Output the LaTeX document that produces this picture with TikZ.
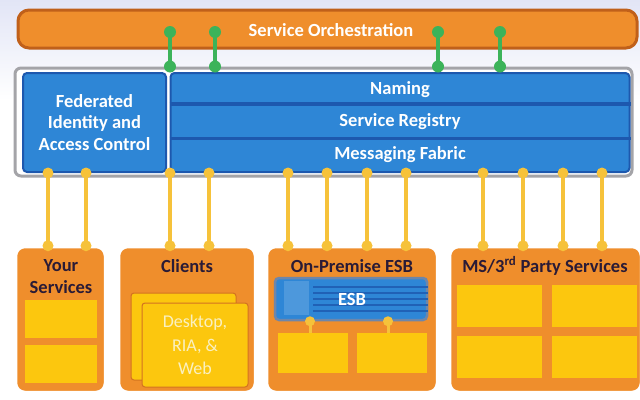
\documentclass[tikz,border=0pt]{standalone}
\usepackage{fontspec}
\setmainfont{Carlito}
\usetikzlibrary{calc}
\definecolor{orangeF}{HTML}{EF8E2C}
\definecolor{orangeD}{HTML}{C0601A}
\definecolor{blueF}{HTML}{2E86D6}
\definecolor{blueD}{HTML}{1D58AE}
\definecolor{yelF}{HTML}{FCC70E}
\definecolor{yelL}{HTML}{F6C23A}
\definecolor{greenL}{HTML}{3CB35A}
\definecolor{titleC}{HTML}{2A1B36}
\definecolor{greyB}{HTML}{A4A4A8}
\definecolor{creamT}{HTML}{FAF0C0}
\tikzset{
  x=1pt,y=-1pt,
  orchbar/.style={draw=orangeD,line width=3pt,fill=orangeF,rounded corners=11pt,inner sep=0pt},
  panel/.style={draw=greyB,line width=3pt,fill=white,rounded corners=6pt,inner sep=0pt},
  bluebox/.style={draw=blueD,line width=2pt,fill=blueF,rounded corners=4pt,inner sep=0pt},
  bluerow/.style={inner sep=0pt,text=white,font=\bfseries\fontsize{18.5}{21}\selectfont},
  group/.style={draw=white,line width=2.5pt,fill=orangeF,rounded corners=9pt,inner sep=0pt},
  gtitle/.style={text=titleC,font=\bfseries\fontsize{18.5}{22}\selectfont,align=center,inner sep=0pt},
  ybox/.style={fill=yelF,draw=none,inner sep=0pt},
  yline/.style={draw=yelL,line width=3.5pt},
  gline/.style={draw=greenL,line width=3.5pt},
  ydot/.style={fill=yelL,draw=none},
  gdot/.style={fill=greenL,draw=none},
}
\begin{document}
\begin{tikzpicture}
\useasboundingbox (0,0) rectangle (640,399);
% background
\shade[top color={rgb,255:red,226;green,229;blue,246},bottom color=white] (0,0) rectangle (640,100);
\fill[white] (0,100) rectangle (640,399);

% orchestration bar
\node[orchbar,minimum width=619pt,minimum height=38pt] (bar) at (327.5,29) {};
\node[inner sep=0pt,text=white,font=\bfseries\fontsize{18.5}{20}\selectfont] (orch) at (331,30) {Service Orchestration};

% main panel
\node[panel,minimum width=617pt,minimum height=108pt] (panel) at (323.5,122) {};
\node[bluebox,minimum width=143pt,minimum height=99pt,text=white,align=center,
      font=\bfseries\fontsize{18.5}{21.5}\selectfont] (fed) at (94.5,122.5)
      {Federated\\Identity and\\Access Control};
\node[bluebox,minimum width=459pt,minimum height=99pt] (right) at (400,122.5) {};
\node[bluerow] (naming) at (400,90) {Naming};
\node[bluerow] (reg) at (400,122) {Service Registry};
\node[bluerow] (msg) at (400,155) {Messaging Fabric};
\draw[blueD,line width=3.5pt] (right.west |- 0,104) -- (right.east |- 0,104);
\draw[blueD,line width=3.5pt] (right.west |- 0,138.5) -- (right.east |- 0,138.5);

% bottom groups
\node[group,minimum width=89pt,minimum height=145pt] (gyours) at (60.5,319.5) {};
\node[group,minimum width=136pt,minimum height=145pt] (gclients) at (187,319.5) {};
\node[group,minimum width=170pt,minimum height=145pt] (gonprem) at (352,319.5) {};
\node[group,minimum width=191pt,minimum height=145pt] (gms) at (545.5,319.5) {};
\node[gtitle] (yours) at (61,276.5) {Your\\Services};
\node[gtitle] (clients) at (187,266) {Clients};
\node[gtitle] (onprem) at (352,266) {On-Premise ESB};
\node[gtitle] (ms) at (545,266) {MS/3\textsuperscript{rd} Party Services};

% your services boxes
\node[ybox,minimum width=72pt,minimum height=38pt] (ys1) at (61,319) {};
\node[ybox,minimum width=72pt,minimum height=38pt] (ys2) at (61,364) {};

% clients boxes
\node[ybox,draw=orangeD!60!orangeF,line width=1pt,rounded corners=3pt,minimum width=105pt,minimum height=87pt] (back) at (183.5,336.5) {};
\node[ybox,draw=orangeD!60!orangeF,line width=1pt,rounded corners=3pt,minimum width=106pt,minimum height=84pt,
      text=creamT,align=center,font=\fontsize{18}{23.5}\selectfont] (desk) at (195,345) {Desktop,\\RIA, \&\\Web};

% on-premise ESB
\node[bluebox,draw=greyB!60!blueD,line width=2.5pt,minimum width=152pt,minimum height=42pt] (esb) at (351,299) {};
\fill[blueF!85!white] (esb.north west) ++(10,4) rectangle ++(25,34);
\foreach \yy in {287,293,299,305,311}
  \draw[blueD!80!blueF,line width=1.2pt] (313,\yy) -- (esb.east |- 0,\yy);
\node[bluerow] (esbt) at (352,299) {ESB};
\node[ybox,minimum width=70pt,minimum height=40pt] (eb1) at (313,353) {};
\node[ybox,minimum width=70pt,minimum height=40pt] (eb2) at (392,353) {};
\coordinate (ex1) at (310,0);
\coordinate (ex2) at (388,0);
\draw[yline,line width=3pt] (esb.south -| ex1) -- (eb1.north -| ex1);
\draw[yline,line width=3pt] (esb.south -| ex2) -- (eb2.north -| ex2);
\fill[ydot] (esb.south -| ex1) circle (5pt);
\fill[ydot] (esb.south -| ex2) circle (5pt);

% MS boxes
\node[ybox,minimum width=85pt,minimum height=42pt] (m1) at (499.5,306) {};
\node[ybox,minimum width=85pt,minimum height=42pt] (m2) at (594.5,306) {};
\node[ybox,minimum width=85pt,minimum height=42pt] (m3) at (499.5,357) {};
\node[ybox,minimum width=85pt,minimum height=42pt] (m4) at (594.5,357) {};

% green connectors
\foreach \gx [count=\i] in {170,215,438,500} {
  \coordinate (gx\i) at (\gx,32);
  \draw[gline] (gx\i) -- (panel.north -| gx\i);
  \fill[gdot] (gx\i) circle (6pt);
  \fill[gdot] (panel.north -| gx\i) circle (6pt);
}

% yellow connectors
\foreach \yx/\src/\dst [count=\i] in {48/fed/gyours,86/fed/gyours,
    170/right/gclients,209/right/gclients,
    288/right/gonprem,327/right/gonprem,367/right/gonprem,406/right/gonprem,
    483/right/gms,523/right/gms,563/right/gms,602/right/gms} {
  \coordinate (yx\i) at (\yx,0);
  \draw[yline] (\src.south -| yx\i) -- (\dst.north -| yx\i);
  \fill[ydot] (\src.south -| yx\i) circle (5.5pt);
  \fill[ydot] (\dst.north -| yx\i) circle (5.5pt);
}
\end{tikzpicture}
\end{document}
